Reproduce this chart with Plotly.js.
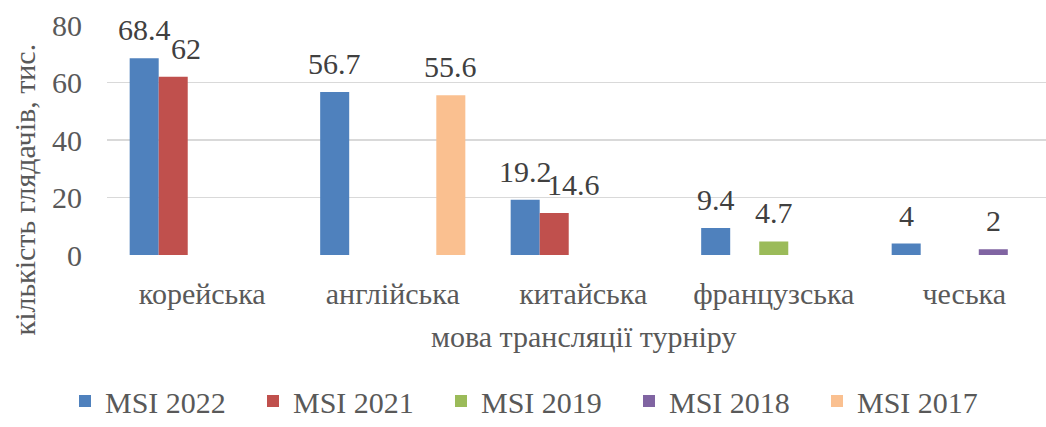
<!DOCTYPE html>
<html>
<head>
<meta charset="utf-8">
<script src="https://cdn.plot.ly/plotly-3.0.1.min.js"></script>
<style>html,body{margin:0;padding:0;background:#fff;}#chart{width:1046px;height:427px;}</style>
</head>
<body>
<div id="chart"></div>
<script>
// ---- data ----
const categories = ["корейська", "англійська", "китайська", "французська", "чеська"];
const seriesNames = ["MSI 2022", "MSI 2021", "MSI 2019", "MSI 2018", "MSI 2017"];
const msi2022 = [68.4, 56.7, 19.2, 9.4, 4];
const msi2021 = [62, null, 14.6, null, null];
const msi2019 = [null, null, null, 4.7, null];
const msi2018 = [null, null, null, null, 2];
const msi2017 = [null, 55.6, null, null, null];
const yTicks = [0, 20, 40, 60, 80];
const xTitle = "мова трансляції турніру";
const yTitle = "кількість глядачів, тис.";

// ---- style ----
const colors = ["#4F81BD", "#C0504D", "#9BBB59", "#8064A2", "#FAC090"];
const allSeries = [msi2022, msi2021, msi2019, msi2018, msi2017];
const FONT = "Liberation Serif, Times New Roman, serif";
const bargap = 0.238;
const nS = allSeries.length;
const slotW = (1 - bargap) / nS;
// label nudges (px) where labels would collide, as in the reference
const labelNudge = {"1-0": 13, "1-2": 19};

const traces = allSeries.map((vals, i) => ({
  type: "bar",
  name: seriesNames[i],
  x: categories,
  y: vals,
  marker: {color: colors[i], line: {width: 0}},
  hoverinfo: "skip"
}));

const annotations = [];
allSeries.forEach((vals, i) => {
  vals.forEach((v, j) => {
    if (v === null) return;
    annotations.push({
      x: j + (i - (nS - 1) / 2) * slotW,
      y: v,
      xref: "x", yref: "y",
      text: String(v),
      showarrow: false,
      yanchor: "bottom",
      yshift: 10,
      xshift: labelNudge[i + "-" + j] || 0,
      font: {family: FONT, size: 30, color: "#404040"}
    });
  });
});

annotations.push({
  x: (categories.length - 1) / 2, xref: "x",
  y: -0.355, yref: "paper", yanchor: "middle",
  text: xTitle, showarrow: false,
  font: {family: FONT, size: 30, color: "#595959"}
});
annotations.push({
  x: (24 - 107) / 939, xref: "paper", xanchor: "center",
  y: 0.285, yref: "paper", yanchor: "middle",
  text: yTitle, textangle: -90, showarrow: false,
  font: {family: FONT, size: 30, color: "#595959"}
});

const layout = {
  width: 1046, height: 427,
  font: {family: FONT},
  margin: {l: 107, r: 0, t: 25, b: 172, pad: 0},
  paper_bgcolor: "#fff", plot_bgcolor: "#fff",
  barmode: "group", bargap: bargap, bargroupgap: 0,
  showlegend: true,
  legend: {
    orientation: "h",
    xref: "container", yref: "container",
    x: 65 / 1046, xanchor: "left",
    y: 0, yanchor: "bottom",
    entrywidth: 143, entrywidthmode: "pixels",
    font: {family: FONT, size: 30, color: "#595959"},
    traceorder: "normal"
  },
  xaxis: {
    type: "category",
    range: [-0.5, -0.5 + 939 / 190.5],
    showgrid: false, zeroline: false, showline: false,
    ticks: "", ticklabelstandoff: 18,
    tickfont: {family: FONT, size: 30, color: "#595959"},
    fixedrange: true
  },
  yaxis: {
    range: [0, 80],
    tickvals: yTicks,
    showgrid: true, gridcolor: "#D9D9D9", gridwidth: 1.5,
    zeroline: false, showline: false,
    ticks: "", ticklabelstandoff: 24,
    tickfont: {family: FONT, size: 30, color: "#595959"},
    fixedrange: true
  },
  annotations: annotations
};

Plotly.newPlot("chart", traces, layout, {displayModeBar: false, staticPlot: true});
</script>
</body>
</html>
